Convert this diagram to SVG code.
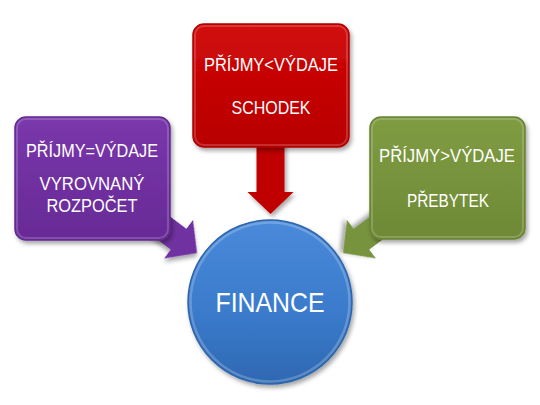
<svg xmlns="http://www.w3.org/2000/svg" width="540" height="405" viewBox="0 0 540 405">
  <defs>
    <filter id="shadow" x="-20%" y="-20%" width="140%" height="140%">
      <feDropShadow dx="2" dy="3" stdDeviation="2" flood-color="#000" flood-opacity="0.35"/>
    </filter>
    <linearGradient id="gRed" x1="0" y1="0" x2="0" y2="1">
      <stop offset="0" stop-color="#D21010"/>
      <stop offset="0.5" stop-color="#C40000"/>
      <stop offset="1" stop-color="#B80000"/>
    </linearGradient>
    <linearGradient id="gPurple" x1="0" y1="0" x2="0" y2="1">
      <stop offset="0" stop-color="#7A38AC"/>
      <stop offset="0.5" stop-color="#7030A0"/>
      <stop offset="1" stop-color="#682B96"/>
    </linearGradient>
    <linearGradient id="gGreen" x1="0" y1="0" x2="0" y2="1">
      <stop offset="0" stop-color="#7F9C42"/>
      <stop offset="0.5" stop-color="#77933C"/>
      <stop offset="1" stop-color="#6E8936"/>
    </linearGradient>
    <linearGradient id="gBlue" x1="0" y1="0" x2="0" y2="1">
      <stop offset="0" stop-color="#4A8ADA"/>
      <stop offset="0.55" stop-color="#3B7BCC"/>
      <stop offset="1" stop-color="#2E68B2"/>
    </linearGradient>
    <polygon id="diagArrow" points="0,0 -23,-24 -23,-13 -75,-13 -75,13 -23,13 -23,24"/>
  </defs>
  <style>
    .lbl { font-family: "Liberation Sans", Arial, sans-serif; font-size: 18.5px; fill: #FFFFFF; text-anchor: middle; }
    .big { font-family: "Liberation Sans", Arial, sans-serif; font-size: 28px; fill: #FFFFFF; text-anchor: middle; }
    .box { filter: url(#shadow); stroke-width: 1.5; }
    .rim { fill: none; stroke: #FFFFFF; stroke-opacity: 0.18; stroke-width: 2; }
  </style>

  <g id="connectors">
    <polygon id="arrow-red" points="256.5,140 284.5,140 284.5,192 293.5,192 270.5,214 247.5,192 256.5,192" fill="#C00000" filter="url(#shadow)"/>
    <use id="arrow-purple" href="#diagArrow" transform="translate(197,253) rotate(36.87)" fill="#7030A0" filter="url(#shadow)"/>
    <use id="arrow-green" href="#diagArrow" transform="translate(343,253) rotate(143.13)" fill="#77933C" filter="url(#shadow)"/>
  </g>

  <g id="node-schodek">
    <rect class="box" x="193" y="24" width="156" height="123" rx="11" fill="url(#gRed)" stroke="#B00000"/>
    <rect class="rim" x="195" y="26" width="152" height="119" rx="9"/>
    <text class="lbl" x="271" y="70.5" textLength="134" lengthAdjust="spacingAndGlyphs">PŘÍJMY&lt;VÝDAJE</text>
    <text class="lbl" x="271" y="114" textLength="79" lengthAdjust="spacingAndGlyphs">SCHODEK</text>
  </g>

  <g id="node-vyrovnany">
    <rect class="box" x="15" y="117" width="155" height="123" rx="11" fill="url(#gPurple)" stroke="#642A90"/>
    <rect class="rim" x="17" y="119" width="151" height="119" rx="9"/>
    <text class="lbl" x="92" y="157" textLength="132" lengthAdjust="spacingAndGlyphs">PŘÍJMY=VÝDAJE</text>
    <text class="lbl" x="92" y="190" textLength="105" lengthAdjust="spacingAndGlyphs">VYROVNANÝ</text>
    <text class="lbl" x="92" y="212" textLength="91" lengthAdjust="spacingAndGlyphs">ROZPOČET</text>
  </g>

  <g id="node-prebytek">
    <rect class="box" x="370" y="117" width="155" height="122" rx="11" fill="url(#gGreen)" stroke="#6A8434"/>
    <rect class="rim" x="372" y="119" width="151" height="118" rx="9"/>
    <text class="lbl" x="447" y="162" textLength="136" lengthAdjust="spacingAndGlyphs">PŘÍJMY&gt;VÝDAJE</text>
    <text class="lbl" x="448" y="207" textLength="82" lengthAdjust="spacingAndGlyphs">PŘEBYTEK</text>
  </g>

  <g id="node-finance">
    <circle cx="270" cy="302" r="82" fill="url(#gBlue)" stroke="#2D65AA" stroke-width="1.5" filter="url(#shadow)"/>
    <circle cx="270" cy="302" r="79.5" fill="none" stroke="#FFFFFF" stroke-opacity="0.22" stroke-width="2.5"/>
    <text class="big" x="270" y="312" textLength="109" lengthAdjust="spacingAndGlyphs">FINANCE</text>
  </g>
</svg>
